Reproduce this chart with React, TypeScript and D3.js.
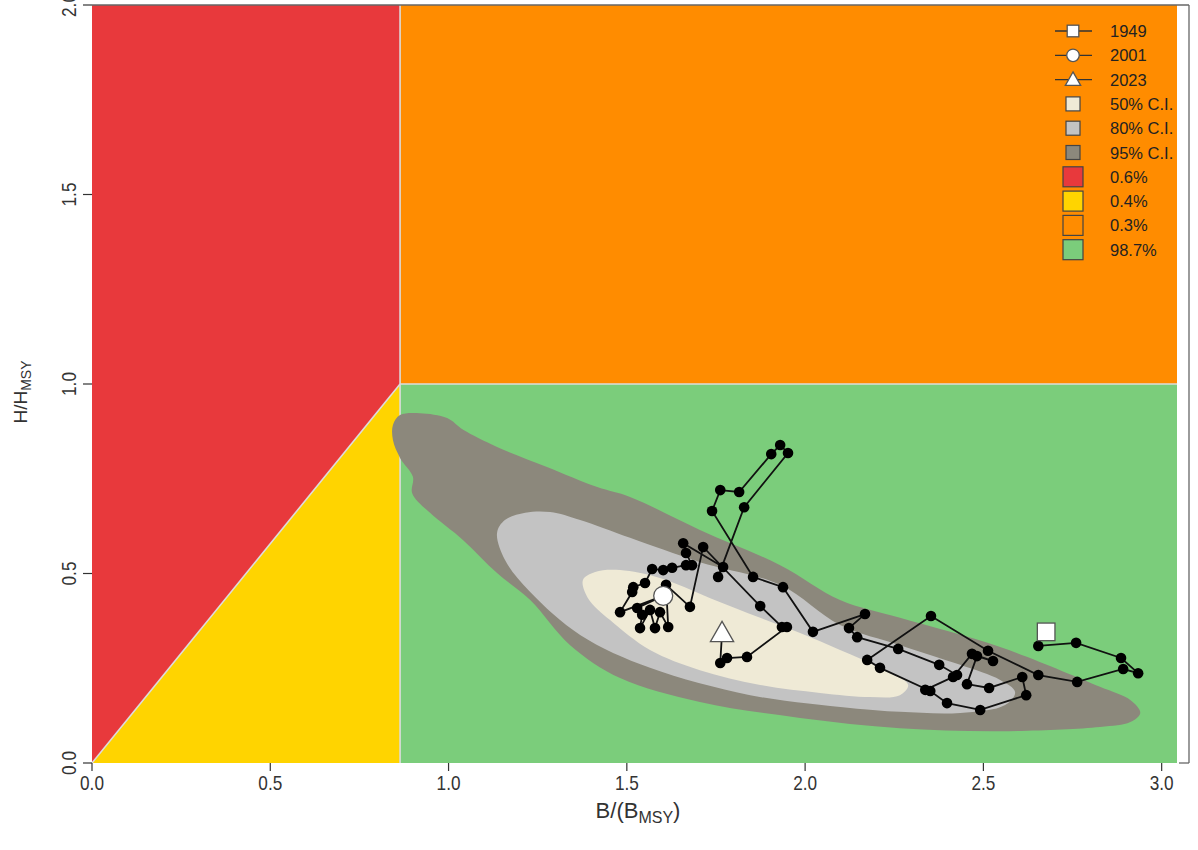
import React from "react";
import * as d3 from "d3";

const W = 1198;
const H = 850;

// Axes
const xTicks = [0, 0.5, 1, 1.5, 2, 2.5, 3];
const yTicks = [0, 0.5, 1, 1.5, 2];
const xDomain = [0, 3.043];
const yDomain = [0, 2];

// Kobe reference points
const bThreshold = 0.864;
const hThreshold = 1.0;

// Trajectory (B/BMSY, H/HMSY), 1949 -> 2023
const trajB = [
  2.654, 2.76, 2.886, 2.934, 2.892, 2.763, 2.654, 2.513, 2.353, 2.174,
  2.21, 2.351, 2.398, 2.491, 2.62, 2.609, 2.516, 2.454, 2.482, 2.527,
  2.468, 2.415, 2.337, 2.426, 2.376, 2.261, 2.146, 2.123, 2.168, 2.022,
  1.938, 1.854, 1.739, 1.762, 1.815, 1.905, 1.93, 1.952, 1.829, 1.756,
  1.77, 1.658, 1.666, 1.683, 1.666, 1.627, 1.602, 1.571, 1.551, 1.518,
  1.515, 1.481, 1.602, 1.529, 1.543, 1.537, 1.565, 1.579, 1.593, 1.616,
  1.61, 1.677, 1.714, 1.874, 1.935, 1.949, 1.837, 1.781, 1.762, 1.767,
];
const trajH = [
  0.309, 0.317, 0.277, 0.237, 0.248, 0.214, 0.232, 0.296, 0.388, 0.272,
  0.251, 0.19, 0.158, 0.14, 0.179, 0.227, 0.198, 0.208, 0.282, 0.269,
  0.288, 0.227, 0.193, 0.232, 0.259, 0.301, 0.332, 0.356, 0.393, 0.346,
  0.464, 0.491, 0.665, 0.72, 0.715, 0.815, 0.839, 0.818, 0.675, 0.491,
  0.517, 0.58, 0.554, 0.522, 0.522, 0.515, 0.509, 0.512, 0.475, 0.464,
  0.451, 0.398, 0.441, 0.409, 0.391, 0.356, 0.404, 0.356, 0.398, 0.359,
  0.47, 0.412, 0.57, 0.414, 0.359, 0.359, 0.28, 0.277, 0.264, 0.343,
];

// Highlighted years
const markerYears = ["1949", "2001", "2023"];
const markerB = [2.676, 1.602, 1.767];
const markerH = [0.346, 0.441, 0.343];

// Confidence region outlines
const ci95B = [0.844, 0.864, 0.92, 0.996, 1.041, 1.136, 1.276, 1.417, 1.509, 1.705, 1.93, 2.098, 2.266, 2.547, 2.827, 2.912, 2.94, 2.912, 2.827, 2.547, 2.266, 1.986, 1.705, 1.481, 1.341, 1.229, 1.136, 1.041, 0.948, 0.898, 0.9, 0.864, 0.844];
const ci95H = [0.892, 0.918, 0.923, 0.91, 0.879, 0.834, 0.781, 0.728, 0.702, 0.615, 0.522, 0.43, 0.383, 0.306, 0.201, 0.166, 0.132, 0.108, 0.095, 0.084, 0.092, 0.119, 0.161, 0.224, 0.311, 0.43, 0.501, 0.588, 0.66, 0.712, 0.755, 0.805, 0.852];
const ci80B = [1.136, 1.158, 1.215, 1.285, 1.369, 1.509, 1.705, 1.93, 2.098, 2.266, 2.435, 2.547, 2.589, 2.561, 2.435, 2.266, 2.126, 1.846, 1.565, 1.369, 1.229, 1.158];
const ci80H = [0.607, 0.641, 0.66, 0.662, 0.641, 0.594, 0.53, 0.47, 0.364, 0.311, 0.259, 0.219, 0.187, 0.153, 0.132, 0.135, 0.145, 0.179, 0.251, 0.338, 0.451, 0.536];
const ci50B = [1.377, 1.411, 1.481, 1.593, 1.734, 1.874, 1.986, 2.098, 2.21, 2.289, 2.266, 2.182, 2.042, 1.874, 1.705, 1.565, 1.453, 1.391];
const ci50H = [0.483, 0.504, 0.509, 0.488, 0.435, 0.383, 0.343, 0.298, 0.251, 0.206, 0.179, 0.174, 0.185, 0.206, 0.245, 0.298, 0.377, 0.435];

// Legend
const ciLabels = ["50% C.I.", "80% C.I.", "95% C.I."];
const ciColors = ["#efead6", "#c3c3c3", "#8c887c"];
const zoneLabels = ["0.6%", "0.4%", "0.3%", "98.7%"];
const zoneColors = ["#e8393c", "#ffd400", "#ff8c00", "#7bcd7b"];

const FONT = "'Liberation Sans', Arial, Helvetica, sans-serif";

export default function App() {
  const x = d3.scaleLinear().domain(xDomain).range([92, 1177]);
  const y = d3.scaleLinear().domain(yDomain).range([763, 5]);

  const x0 = x(xDomain[0]);
  const x1 = x(xDomain[1]);
  const xb = x(bThreshold);
  const y0 = y(0);
  const yh = y(hThreshold);
  const yTop = y(yDomain[1]);

  const closed = d3
    .line<[number, number]>()
    .x((d) => x(d[0]))
    .y((d) => y(d[1]))
    .curve(d3.curveCatmullRomClosed.alpha(0.5));

  const zip = (a: number[], b: number[]) => a.map((v, i) => [v, b[i]] as [number, number]);

  const traj = zip(trajB, trajH);
  const trajLine = d3
    .line<[number, number]>()
    .x((d) => x(d[0]))
    .y((d) => y(d[1]));

  const fmt = d3.format(".1f");

  const legendX = 1073;
  const legendTextX = 1110;
  const legendY0 = 31;
  const legendStep = 24.3;

  const markerShape = (i: number, cx: number, cy: number, s: number) => {
    if (i === 0)
      return <rect x={cx - s} y={cy - s} width={2 * s} height={2 * s} fill="#fff" stroke="#555" strokeWidth={1.3} />;
    if (i === 1) return <circle cx={cx} cy={cy} r={s * 1.08} fill="#fff" stroke="#555" strokeWidth={1.3} />;
    const h = s * 2.2;
    return (
      <path
        d={`M${cx},${cy - h * 0.6}L${cx + h * 0.6},${cy + h * 0.45}L${cx - h * 0.6},${cy + h * 0.45}Z`}
        fill="#fff"
        stroke="#555"
        strokeWidth={1.3}
      />
    );
  };

  return (
    <svg
      width={W}
      height={H}
      style={{ position: "absolute", left: 0, top: 0, background: "#fff" }}
      fontFamily={FONT}
    >
      {/* zones */}
      <path d={`M${x0},${y0}L${xb},${yh}L${xb},${yTop}L${x0},${yTop}Z`} fill={zoneColors[0]} />
      <path d={`M${x0},${y0}L${xb},${y0}L${xb},${yh}Z`} fill={zoneColors[1]} />
      <rect x={xb} y={yTop} width={x1 - xb} height={yh - yTop} fill={zoneColors[2]} />
      <rect x={xb} y={yh} width={x1 - xb} height={y0 - yh} fill={zoneColors[3]} />
      {/* zone separators */}
      <g stroke="#dcdcdc" strokeWidth={1.6} fill="none">
        <line x1={xb} y1={yTop} x2={xb} y2={y0} />
        <line x1={xb} y1={yh} x2={x1} y2={yh} />
        <line x1={x0} y1={y0} x2={xb} y2={yh} />
      </g>

      {/* confidence regions */}
      <path d={closed(zip(ci95B, ci95H)) || ""} fill={ciColors[2]} />
      <path d={closed(zip(ci80B, ci80H)) || ""} fill={ciColors[1]} />
      <path d={closed(zip(ci50B, ci50H)) || ""} fill={ciColors[0]} />

      {/* trajectory */}
      <path d={trajLine(traj) || ""} fill="none" stroke="#111" strokeWidth={1.8} />
      {traj.slice(0, traj.length - 1).map((d, i) => (
        <circle key={i} cx={x(d[0])} cy={y(d[1])} r={5.3} fill="#000" />
      ))}
      {markerYears.map((yr, i) => (
        <g key={yr}>{markerShape(i, x(markerB[i]), y(markerH[i]), 8.8)}</g>
      ))}

      {/* frame */}
      <g stroke="#666" strokeWidth={1.3} fill="none">
        <line x1={x0} y1={yTop} x2={1189} y2={yTop} />
        <line x1={1189} y1={yTop} x2={1189} y2={y0} />
        <line x1={1179} y1={y0} x2={1189} y2={y0} />
      </g>

      {/* x axis */}
      <g fill="#333" fontSize={20}>
        {xTicks.map((t) => (
          <g key={t}>
            <line x1={x(t)} x2={x(t)} y1={y0} y2={y0 + 8} stroke="#333" strokeWidth={1.2} />
            <text transform={`translate(${x(t)},790) scale(0.86,1)`} textAnchor="middle">
              {fmt(t)}
            </text>
          </g>
        ))}
        <text x={638} y={818} textAnchor="middle" fontSize={22}>
          B/(B<tspan fontSize={16} dy={5}>MSY</tspan>
          <tspan dy={-5}>)</tspan>
        </text>
      </g>

      {/* y axis */}
      <g fill="#333" fontSize={20}>
        {yTicks.map((t) => (
          <g key={t}>
            <line x1={x0 - 9} x2={x0} y1={y(t)} y2={y(t)} stroke="#333" strokeWidth={1.2} />
            <text transform={`translate(76,${y(t)}) rotate(-90) scale(0.86,1)`} textAnchor="middle">
              {fmt(t)}
            </text>
          </g>
        ))}
        <text transform={`translate(27,392) rotate(-90)`} textAnchor="middle" fontSize={19}>
          H/H<tspan fontSize={14} dy={4}>MSY</tspan>
        </text>
      </g>

      {/* legend */}
      <g fontSize={16.5} fill="#222">
        {markerYears.map((yr, i) => {
          const cy = legendY0 + i * legendStep;
          return (
            <g key={yr}>
              <line x1={legendX - 18} x2={legendX + 19} y1={cy} y2={cy} stroke="#333" strokeWidth={1.3} />
              {markerShape(i, legendX, cy, 5.8)}
              <text x={legendTextX} y={cy + 6}>
                {yr}
              </text>
            </g>
          );
        })}
        {ciLabels.map((lab, i) => {
          const cy = legendY0 + (i + 3) * legendStep;
          return (
            <g key={lab}>
              <rect x={legendX - 7} y={cy - 7} width={14} height={14} fill={ciColors[i]} stroke="#444" strokeWidth={1.2} />
              <text x={legendTextX} y={cy + 6}>
                {lab}
              </text>
            </g>
          );
        })}
        {zoneLabels.map((lab, i) => {
          const cy = legendY0 + (i + 6) * legendStep;
          return (
            <g key={lab}>
              <rect x={legendX - 10} y={cy - 10} width={20} height={20} fill={zoneColors[i]} stroke="#444" strokeWidth={1.2} />
              <text x={legendTextX} y={cy + 6}>
                {lab}
              </text>
            </g>
          );
        })}
      </g>
    </svg>
  );
}
